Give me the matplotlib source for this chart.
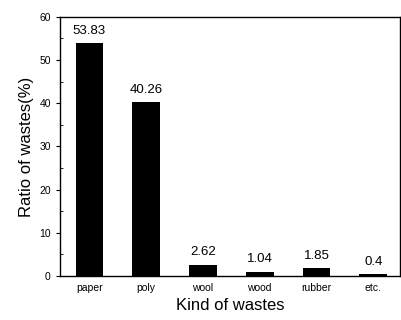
import matplotlib
matplotlib.use('Agg')
import matplotlib.pyplot as plt
from matplotlib.ticker import MultipleLocator

plt.rcParams['font.family'] = ['Liberation Sans', 'DejaVu Sans']

kinds = ['paper', 'poly', 'wool', 'wood', 'rubber', 'etc.']
ratios = [53.83, 40.26, 2.62, 1.04, 1.85, 0.4]

fig = plt.figure(figsize=(4.02, 3.2), dpi=100)
ax = fig.add_axes([0.149, 0.1375, 0.846, 0.81])

x = range(len(kinds))
ax.bar(x, ratios, width=0.49, color='black')
for xi, v in zip(x, ratios):
    ax.text(xi, v + 1.5, f'{v:g}', ha='center', va='bottom', fontsize=9.5)

ax.set_xlim(-0.52, 5.47)
ax.set_ylim(0, 60)
ax.set_xticks(list(x))
ax.set_xticklabels(kinds, fontsize=7.5)
ax.yaxis.set_major_locator(MultipleLocator(10))
ax.yaxis.set_minor_locator(MultipleLocator(5))
ax.tick_params(axis='y', labelsize=7.5, length=3, direction='out')
ax.tick_params(axis='y', which='minor', length=2, direction='in')
ax.tick_params(axis='x', length=0, pad=5)
for s in ax.spines.values():
    s.set_linewidth(1.0)

ax.set_xlabel('Kind of wastes', fontsize=12)
ax.set_ylabel('Ratio of wastes(%)', fontsize=12)

fig.savefig('out.png', dpi=100)
